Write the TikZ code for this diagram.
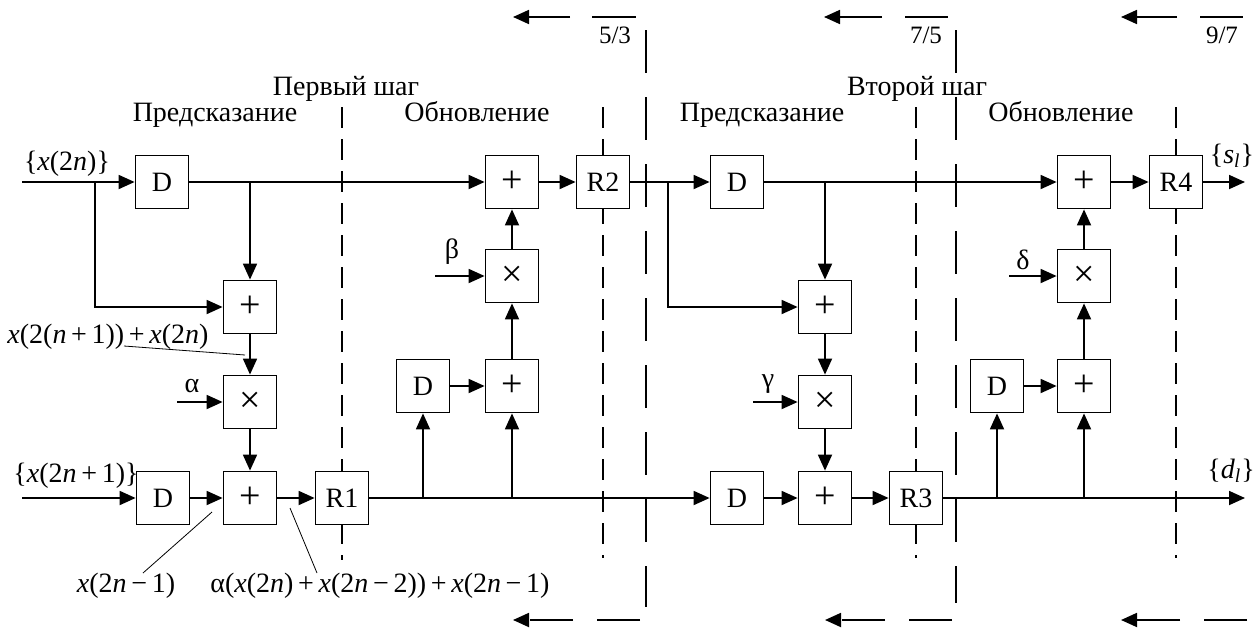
\documentclass[tikz,border=0pt]{standalone}
\usepackage{fontspec}
\setmainfont{Liberation Serif}
\usetikzlibrary{arrows.meta}

\begin{document}
\begin{tikzpicture}[x=0.5pt,y=-0.5pt,line width=0.9pt,
  font=\fontsize{14}{16}\selectfont,
  >={Triangle[length=8pt,width=7pt]},
  blk/.style={draw,fill=white,minimum width=26.5pt,minimum height=26.5pt,
    inner sep=0pt,font=\fontsize{14}{16}\selectfont},
  op/.style={blk,font=\fontsize{19}{20}\selectfont},
  sep/.style={dash pattern=on 10.5pt off 5.5pt},
  stepsep/.style={dash pattern=on 21.5pt off 12pt},
  lead/.style={line width=0.4pt},
  frac/.style={anchor=base,font=\fontsize{12.5}{14}\selectfont}]
\useasboundingbox (0,0) rectangle (1253,627);

% dashed separators
\draw[sep] (342,107) -- (342,560);
\draw[sep] (603,107) -- (603,558);
\draw[sep] (916,107) -- (916,558);
\draw[sep] (1176,107) -- (1176,558);
\draw[stepsep] (646,30) -- (646,607);
\draw[stepsep] (956,30) -- (956,603);

% top arrows and coefficients
\draw[->] (570,17) -- (513,17);
\draw (592,17) -- (636,17);
\node[frac] (f53) at (615,43) {5/3};
\draw[->] (882,17) -- (824,17);
\draw (905,17) -- (948,17);
\node[frac] (f75) at (926,43) {7/5};
\draw[->] (1177,17) -- (1121,17);
\draw (1200,17) -- (1243,17);
\node[frac] (f97) at (1222,43) {9/7};

% bottom arrows
\draw[stepsep,->] (640,620) -- (513,620);
\draw[stepsep,->] (952,620) -- (825,620);
\draw[stepsep,->] (1247,620) -- (1121,620);

% titles
\node[anchor=base] (st1) at (346,95) {Первый шаг};
\node[anchor=base] (pr1) at (215,121) {Предсказание};
\node[anchor=base] (ob1) at (477,121) {Обновление};
\node[anchor=base] (st2) at (917,95) {Второй шаг};
\node[anchor=base] (pr2) at (762,121) {Предсказание};
\node[anchor=base] (ob2) at (1061,121) {Обновление};

% first step
\node[blk] (d1) at (162,182) {D};
\node[op] (pa) at (250,307) {+};
\node[op] (ma) at (250,402) {×};
\node[blk] (d2) at (163,498) {D};
\node[op] (aa) at (250,498) {+};
\node[blk] (r1) at (342,498) {R1};
\node[blk] (ud1) at (423,386) {D};
\node[op] (up1) at (512,386) {+};
\node[op] (mb) at (512,276) {×};
\node[op] (pb) at (512,182) {+};
\node[blk] (r2) at (603,182) {R2};

% second step
\node[blk] (d3) at (737,182) {D};
\node[op] (pc) at (825,307) {+};
\node[op] (mc) at (825,402) {×};
\node[blk] (d4) at (737,498) {D};
\node[op] (ac) at (825,498) {+};
\node[blk] (r3) at (916,498) {R3};
\node[blk] (ud2) at (997,386) {D};
\node[op] (up2) at (1084,386) {+};
\node[op] (md) at (1084,276) {×};
\node[op] (pd) at (1084,182) {+};
\node[blk] (r4) at (1176,182) {R4};

% inputs, outputs and coefficient ends
\coordinate (in1) at (22,182);
\coordinate (in2) at (22,498);
\coordinate (out1) at (1245,182);
\coordinate (out2) at (1245,498);
\coordinate (s1) at (95,182);
\coordinate (s3) at (668,182);
\coordinate (al) at (177,402);
\coordinate (be) at (435,276);
\coordinate (ga) at (753,402);
\coordinate (de) at (1009,276);

\node[anchor=base] (lx0) at (67,170) {\{\textit{x}(2\textit{n})\}};
\node[anchor=base] (lx1) at (76,482) {\{\textit{x}(2\textit{n}\,+\,1)\}};
\node[anchor=base] (ls) at (1232,163) {\{\textit{s}\textsubscript{\textit{l}}\}};
\node[anchor=base] (ld) at (1231,478) {\{\textit{d}\textsubscript{\textit{l}}\}};
\node (la) at (192,386) {α};
\node (lb) at (452,252) {β};
\node (lg) at (768,384) {γ};
\node (ldl) at (1023,260) {δ};

% signal paths, first step
\draw[->] (in1) -- (d1);
\draw[->] (s1) |- (pa.west);
\draw[->] (d1) -- (pb);
\draw[->] (d1.east -| pa) -- (pa);
\draw[->] (pa) -- (ma);
\draw[->] (al) -- (ma);
\draw[->] (ma) -- (aa);
\draw[->] (in2) -- (d2);
\draw[->] (d2) -- (aa);
\draw[->] (aa) -- (r1);
\draw[->] (r1) -- (d4);
\draw[->] (r1.east -| ud1) -- (ud1);
\draw[->] (r1.east -| up1) -- (up1);
\draw[->] (ud1) -- (up1);
\draw[->] (up1) -- (mb);
\draw[->] (be) -- (mb);
\draw[->] (mb) -- (pb);
\draw[->] (pb) -- (r2);
\draw[->] (r2) -- (d3);

% signal paths, second step
\draw[->] (s3) |- (pc.west);
\draw[->] (d3) -- (pd);
\draw[->] (d3.east -| pc) -- (pc);
\draw[->] (pc) -- (mc);
\draw[->] (ga) -- (mc);
\draw[->] (mc) -- (ac);
\draw[->] (d4) -- (ac);
\draw[->] (ac) -- (r3);
\draw[->] (r3) -- (out2);
\draw[->] (r3.east -| ud2) -- (ud2);
\draw[->] (r3.east -| up2) -- (up2);
\draw[->] (ud2) -- (up2);
\draw[->] (up2) -- (md);
\draw[->] (de) -- (md);
\draw[->] (md) -- (pd);
\draw[->] (pd) -- (r4);
\draw[->] (r4) -- (out1);

% annotations
\node[anchor=base] (n1) at (108,343) {\textit{x}(2(\textit{n}\,+\,1))\,+\,\textit{x}(2\textit{n})};
\node[anchor=base] (n2) at (126,592) {\textit{x}(2\textit{n}\,−\,1)};
\node[anchor=base] (n3) at (380,592) {α(\textit{x}(2\textit{n})\,+\,\textit{x}(2\textit{n}\,−\,2))\,+\,\textit{x}(2\textit{n}\,−\,1)};
\coordinate (c1a) at (124,346);
\coordinate (c1b) at (245,355);
\coordinate (c2a) at (143,573);
\coordinate (c2b) at (212,512);
\coordinate (c3a) at (317,573);
\coordinate (c3b) at (290,508);
\draw[lead] (c1a) -- (c1b);
\draw[lead] (c2a) -- (c2b);
\draw[lead] (c3a) -- (c3b);
\end{tikzpicture}
\end{document}
